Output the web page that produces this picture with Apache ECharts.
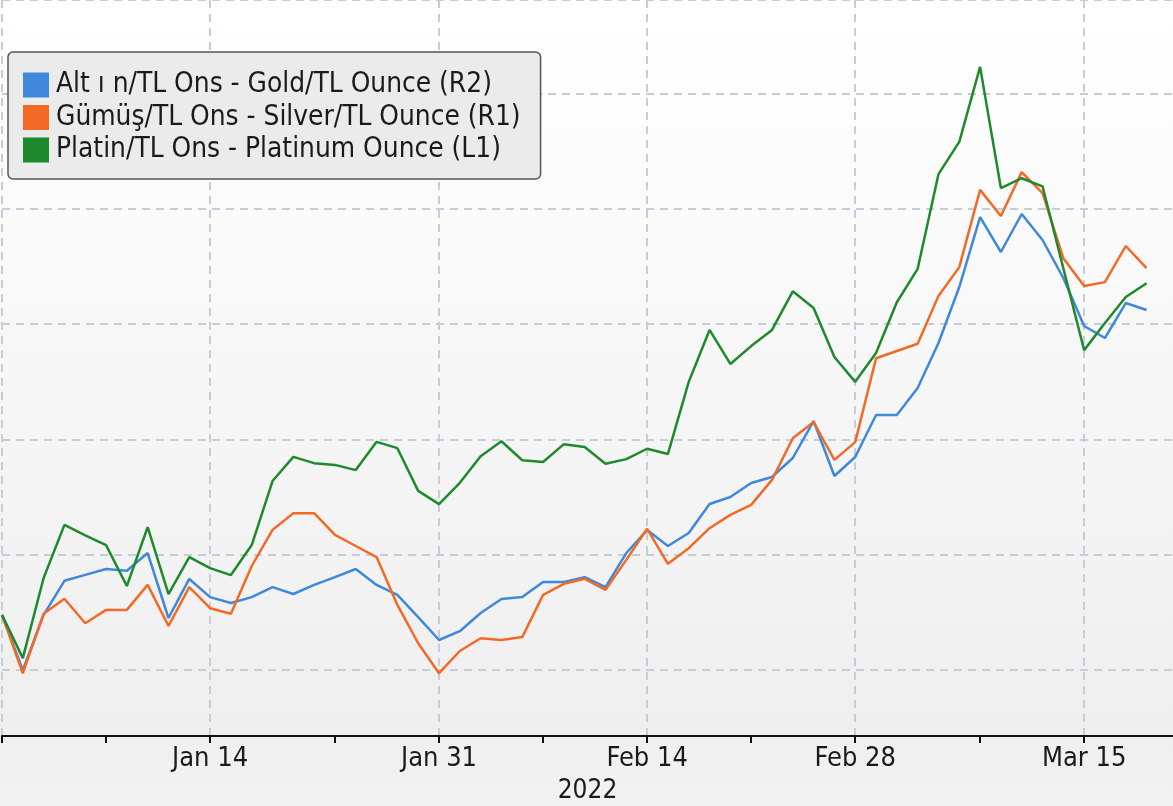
<!DOCTYPE html>
<html>
<head>
<meta charset="utf-8">
<script src="https://cdn.jsdelivr.net/npm/echarts@6/dist/echarts.min.js"></script>
<style>
html, body { margin: 0; padding: 0; background: #fff; }
#chart { width: 1173px; height: 806px; }
</style>
</head>
<body>
<div id="chart"></div>
<script>
// trading days, Dec 31 2021 .. Mar 18 2022
var dates = [
	'Dec 31',
	'Jan 3', 'Jan 4', 'Jan 5', 'Jan 6', 'Jan 7',
	'Jan 10', 'Jan 11', 'Jan 12', 'Jan 13', 'Jan 14',
	'Jan 17', 'Jan 18', 'Jan 19', 'Jan 20', 'Jan 21',
	'Jan 24', 'Jan 25', 'Jan 26', 'Jan 27', 'Jan 28',
	'Jan 31', 'Feb 1', 'Feb 2', 'Feb 3', 'Feb 4',
	'Feb 7', 'Feb 8', 'Feb 9', 'Feb 10', 'Feb 11',
	'Feb 14', 'Feb 15', 'Feb 16', 'Feb 17', 'Feb 18',
	'Feb 21', 'Feb 22', 'Feb 23', 'Feb 24', 'Feb 25',
	'Feb 28', 'Mar 1', 'Mar 2', 'Mar 3', 'Mar 4',
	'Mar 7', 'Mar 8', 'Mar 9', 'Mar 10', 'Mar 11',
	'Mar 14', 'Mar 15', 'Mar 16', 'Mar 17', 'Mar 18'
];
var labelDates = ['Jan 14', 'Jan 31', 'Feb 14', 'Feb 28', 'Mar 15'];
var tickDates = ['Dec 31', 'Jan 7', 'Jan 14', 'Jan 24', 'Jan 31', 'Feb 7', 'Feb 14', 'Feb 21', 'Feb 28', 'Mar 8', 'Mar 15'];
var yearLabel = '2022';

var seriesNames = [
	'Alt ı n/TL Ons - Gold/TL Ounce (R2)',
	'Gümüş/TL Ons - Silver/TL Ounce (R1)',
	'Platin/TL Ons - Platinum Ounce (L1)'
];

// gold, TL per ounce (R2)
var gold = [
	24285, 23540, 24285, 24745, 24825, 24905, 24880, 25120, 24243, 24770,
	24525, 24445, 24525, 24660, 24567, 24690, 24795, 24905, 24690, 24555,
	24255, 23946, 24065, 24310, 24500, 24525, 24729, 24729, 24795, 24660,
	25120, 25431, 25215, 25390, 25782, 25876, 26065, 26146, 26403, 26902,
	26160, 26416, 26983, 26983, 27348, 27955, 28711, 29656, 29184, 29697,
	29346, 28833, 28185, 28023, 28495, 28401
];
// silver, TL per ounce (R1)
var silver = [
	309.8, 299.3, 310.0, 312.7, 308.3, 310.7, 310.7, 315.2, 307.8, 314.8,
	311.0, 310.0, 318.6, 325.1, 328.1, 328.1, 324.2, 322.2, 320.2, 311.6,
	304.7, 299.3, 303.3, 305.6, 305.3, 305.8, 313.4, 315.4, 316.3, 314.3,
	319.7, 325.3, 319.0, 321.8, 325.4, 327.8, 329.6, 334.1, 341.6, 344.5,
	337.7, 340.9, 356.0, 357.3, 358.6, 367.2, 372.4, 386.3, 381.6, 389.5,
	385.7, 374.0, 369.0, 369.7, 376.2, 372.2
];
// platinum, TL per ounce (L1)
var platinum = [
	12480, 12105, 12800, 13260, 13170, 13085, 12730, 13240, 12660, 12980,
	12885, 12825, 13085, 13640, 13850, 13795, 13780, 13735, 13980, 13925,
	13555, 13440, 13625, 13855, 13985, 13820, 13805, 13960, 13935, 13790,
	13830, 13920, 13875, 14500, 14950, 14655, 14810, 14950, 15285, 15140,
	14715, 14500, 14750, 15190, 15480, 16300, 16580, 17230, 16180, 16265,
	16195, 15485, 14775, 15010, 15235, 15355
];

var colors = ['#3f88dc', '#f26a26', '#1f8a2c'];

function toPoints(arr) {
	return arr.map(function (v, i) { return [i, v]; });
}
function idx(list) {
	return list.map(function (d) { return dates.indexOf(d); });
}

var font = "'DejaVu Sans Condensed', 'DejaVu Sans', sans-serif";
var gridColor = '#c6ccd9';
var xMax = 56.27;

var option = {
	animation: false,
	backgroundColor: {
		type: 'linear', x: 0, y: 0, x2: 0, y2: 1,
		colorStops: [
			{ offset: 0, color: '#ffffff' },
			{ offset: 0.9, color: '#efefef' },
			{ offset: 1, color: '#f2f2f2' }
		]
	},
	textStyle: { fontFamily: font },
	grid: { left: 2, right: 0, top: 0, bottom: 70, containLabel: false, outerBoundsMode: 'none' },
	legend: {
		left: 8,
		top: 52,
		orient: 'vertical',
		icon: 'rect',
		itemWidth: 26,
		itemHeight: 25,
		itemGap: 4.5,
		padding: [19, 20, 15, 15],
		backgroundColor: '#ebebeb',
		borderColor: '#555',
		borderWidth: 1.5,
		borderRadius: 5,
		textStyle: { fontFamily: font, fontSize: 27.8, color: '#1a1a1a', padding: [0, 0, 0, 2] },
		data: seriesNames
	},
	xAxis: [{
		type: 'value',
		min: 0,
		max: xMax,
		name: yearLabel,
		nameLocation: 'middle',
		nameGap: 42,
		nameTextStyle: { fontFamily: font, fontSize: 26, color: '#1a1a1a' },
		axisLine: { lineStyle: { color: '#111', width: 2 } },
		axisTick: { length: 7, lineStyle: { color: '#111', width: 2 }, customValues: idx(tickDates) },
		axisLabel: {
			customValues: idx(labelDates),
			fontFamily: font, fontSize: 27, color: '#1a1a1a', margin: 9,
			formatter: function (v) { return dates[Math.round(v)]; }
		},
		splitLine: { show: false }
	}, {
		type: 'value',
		min: 0,
		max: xMax,
		position: 'top',
		axisLine: { show: false },
		axisTick: { show: false, customValues: [0].concat(idx(labelDates)) },
		axisLabel: { show: false },
		splitLine: { show: true, lineStyle: { color: gridColor, width: 2, type: [8, 6] } }
	}],
	yAxis: [{
		type: 'value',
		position: 'left',
		min: 11430,
		max: 17810,
		splitNumber: 5,
		minInterval: 1000,
		maxInterval: 1000,
		axisLine: { show: false },
		axisTick: { show: false },
		axisLabel: { show: false },
		splitLine: { show: true, lineStyle: { color: gridColor, width: 2, type: [8, 6] } }
	}, {
		type: 'value',
		show: false,
		min: 288,
		max: 420.48,
		splitLine: { show: false }
	}, {
		type: 'value',
		show: false,
		min: 22650,
		max: 32586,
		splitLine: { show: false }
	}],
	series: [{
		name: seriesNames[0],
		type: 'line',
		yAxisIndex: 2,
		data: toPoints(gold),
		symbol: 'none',
		color: colors[0],
		lineStyle: { width: 2.5, color: colors[0] }
	}, {
		name: seriesNames[1],
		type: 'line',
		yAxisIndex: 1,
		data: toPoints(silver),
		symbol: 'none',
		color: colors[1],
		lineStyle: { width: 2.5, color: colors[1] }
	}, {
		name: seriesNames[2],
		type: 'line',
		yAxisIndex: 0,
		data: toPoints(platinum),
		symbol: 'none',
		color: colors[2],
		lineStyle: { width: 2.5, color: colors[2] }
	}]
};

var chart = echarts.init(document.getElementById('chart'));
chart.setOption(option);
</script>
</body>
</html>
